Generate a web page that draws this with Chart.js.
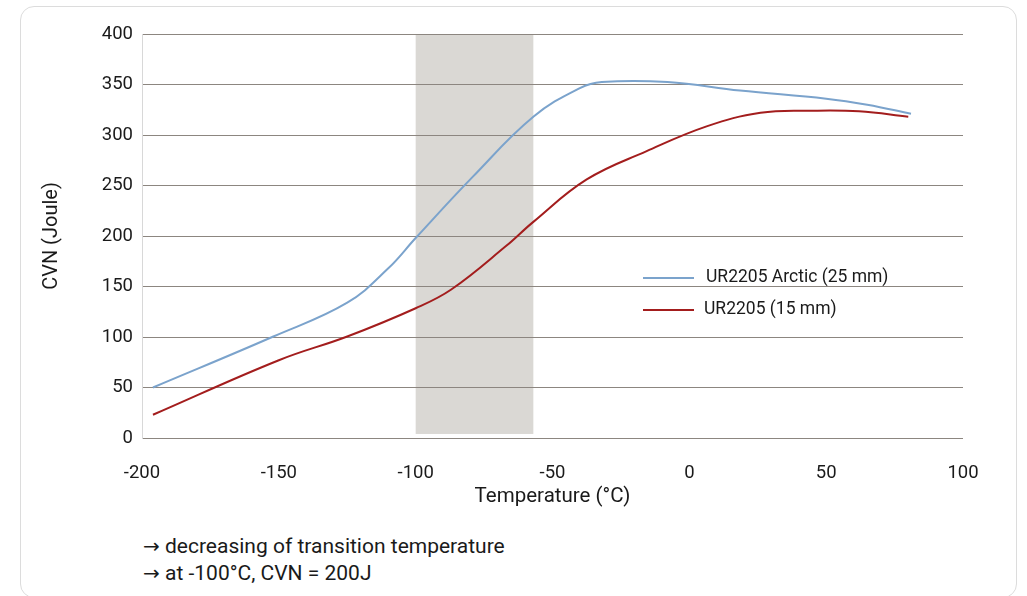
<!DOCTYPE html>
<html>
<head>
<meta charset="utf-8">
<script src="https://cdn.jsdelivr.net/npm/chart.js@4/dist/chart.umd.min.js"></script>
<style>
  html, body { margin: 0; padding: 0; background: #fff; overflow: hidden; }
  body { width: 1027px; height: 596px; position: relative; font-family: Roboto, "Noto Sans", sans-serif; color: #1a1a1a; }
  .frame { position: absolute; left: 20px; top: 6px; width: 997px; height: 592px; border: 1px solid #dcdcdc; border-radius: 14px; box-sizing: border-box; }
  .wrap { position: absolute; left: 0; top: 0; width: 1027px; height: 520px; }
  .notes { position: absolute; left: 143px; top: 533px; font-size: 21px; line-height: 27px; }
  .arr { font-family: "DejaVu Sans", sans-serif; font-size: 20px; }
</style>
</head>
<body>
<div class="frame"></div>
<div class="wrap"><canvas id="chart"></canvas></div>
<div class="notes">
  <div><span class="arr">→</span> decreasing of transition temperature</div>
  <div><span class="arr">→</span> at -100°C, CVN = 200J</div>
</div>
<script>
// 데이터 — 그림에서 읽은 값
const arcticTemp = [-196, -152, -125, -110, -100, -79, -57, -40, -32, -8, 18.5, 50, 65, 81];
const arcticCvn  = [50, 100.5, 134, 168, 198, 259, 318, 346.5, 352.5, 352.5, 344, 336, 330, 321];
const stdTemp = [-196, -150, -125, -100, -87, -67, -57, -37.5, -15.6, 6.3, 26, 45, 62, 80];
const stdCvn  = [23, 77, 100.5, 128.5, 147, 190, 214, 256, 284, 308.5, 322, 324, 323.4, 318];
const seriesLabels = ['UR2205 Arctic (25 mm)', 'UR2205 (15 mm)'];
const bandRange = [-100, -57];   // transition band (°C)
const bandCvn = [4, 400];

const FONT = 'Roboto, "Noto Sans", sans-serif';
const BLUE = '#7ba3cc';
const RED = '#a31d1d';
const toXY = (xs, ys) => xs.map((x, i) => ({ x, y: ys[i] }));

// 회색 전이 구간 — 그리드보다 먼저 그림
const bandPlugin = {
  id: 'band',
  beforeDraw(chart) {
    const { ctx, scales: { x, y } } = chart;
    const x0 = x.getPixelForValue(bandRange[0]);
    const x1 = x.getPixelForValue(bandRange[1]);
    const y0 = y.getPixelForValue(bandCvn[1]);
    const y1 = y.getPixelForValue(bandCvn[0]);
    ctx.save();
    ctx.fillStyle = '#dad8d4';
    ctx.fillRect(x0, y0, x1 - x0, y1 - y0);
    ctx.restore();
  },
};

// 범례를 플롯 안쪽에 직접 그림
const legendPlugin = {
  id: 'innerLegend',
  afterDatasetsDraw(chart) {
    const { ctx } = chart;
    const items = [
      { y: 278, textX: 706 },
      { y: 310, textX: 704 },
    ];
    ctx.save();
    ctx.font = `17.5px ${FONT}`;
    ctx.textBaseline = 'middle';
    ctx.fillStyle = '#1a1a1a';
    chart.data.datasets.forEach((ds, i) => {
      const it = items[i];
      ctx.strokeStyle = ds.borderColor;
      ctx.lineWidth = 2;
      ctx.beginPath();
      ctx.moveTo(643, it.y);
      ctx.lineTo(694, it.y);
      ctx.stroke();
      ctx.fillText(ds.label, it.textX, it.y);
    });
    ctx.restore();
  },
};

const chart = new Chart(document.getElementById('chart'), {
  type: 'line',
  data: {
    datasets: [
      { label: seriesLabels[0], data: toXY(arcticTemp, arcticCvn), borderColor: BLUE, borderWidth: 2, pointRadius: 0, tension: 0.4 },
      { label: seriesLabels[1], data: toXY(stdTemp, stdCvn), borderColor: RED, borderWidth: 2, pointRadius: 0, tension: 0.4 },
    ],
  },
  options: {
    responsive: true, maintainAspectRatio: false, animation: false,
    layout: { padding: { left: 40, top: 34, right: 64, bottom: 0 } },
    plugins: { legend: { display: false }, tooltip: { enabled: false } },
    scales: {
      x: {
        type: 'linear', min: -200, max: 100,
        ticks: { stepSize: 50, padding: 24, color: '#1a1a1a', font: { family: FONT, size: 18.5 } },
        grid: { display: false, drawTicks: false },
        border: { display: false },
        title: { display: true, text: 'Temperature (°C)', color: '#1a1a1a', font: { family: FONT, size: 20.5 }, padding: { top: 0, bottom: 11 } },
        afterFit(scale) { scale.height = 82; },
      },
      y: {
        min: 0, max: 400,
        ticks: { stepSize: 50, padding: 9, color: '#1a1a1a', font: { family: FONT, size: 18.5 } },
        grid: { color: '#8c8680', lineWidth: 1, drawTicks: false },
        border: { color: '#d8d8d8' },
        title: { display: true, text: 'CVN (Joule)', color: '#1a1a1a', font: { family: FONT, size: 20 }, padding: { top: 0, bottom: 0 } },
        afterFit(scale) { scale.width = 102; },
      },
    },
  },
  plugins: [bandPlugin, legendPlugin],
});
</script>
</body>
</html>
